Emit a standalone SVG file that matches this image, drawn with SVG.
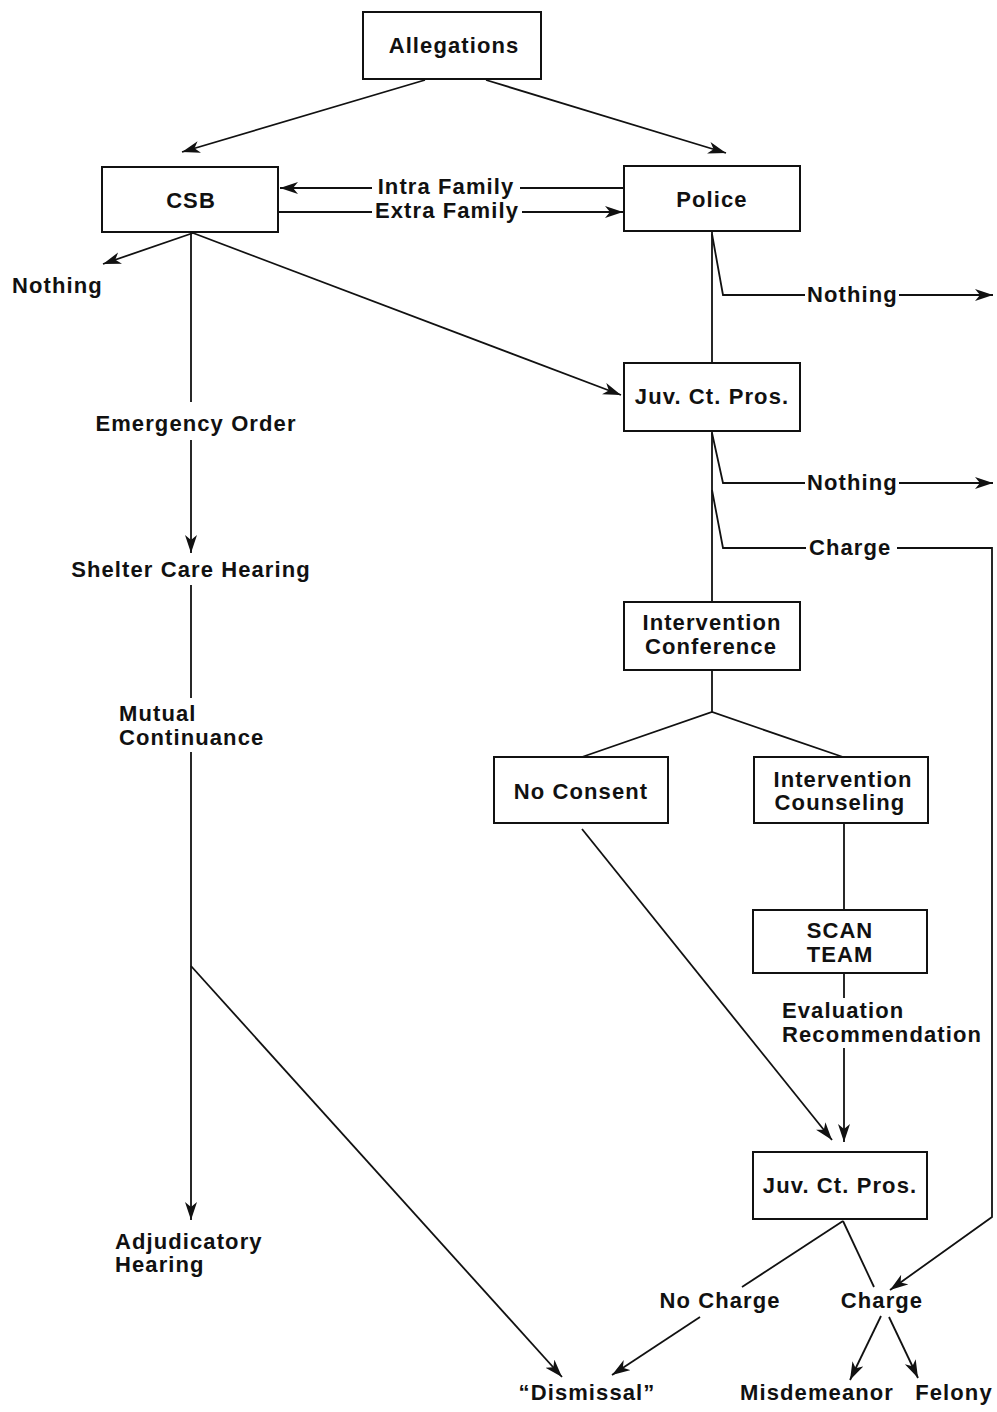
<svg xmlns="http://www.w3.org/2000/svg" width="997" height="1412" viewBox="0 0 997 1412">
<style>
.box{fill:none;stroke:#111;stroke-width:2}
.t{font-family:"Liberation Sans",Arial,sans-serif;font-weight:bold;font-size:22px;letter-spacing:1.1px;fill:#111}
.m{text-anchor:middle}
.c{fill:none;stroke:#111;stroke-width:1.8}
</style>
<defs>
<marker id="ah" markerUnits="userSpaceOnUse" markerWidth="20" markerHeight="14" refX="18" refY="6" orient="auto">
<path d="M0,0 L18,6 L0,12 L5,6 z" fill="#111"/>
</marker>
</defs>
<rect width="997" height="1412" fill="#fff"/>
<g id="connectors">
<line class="c" x1="425" y1="80" x2="182" y2="152" marker-end="url(#ah)"/>
<line class="c" x1="486" y1="80" x2="726" y2="153" marker-end="url(#ah)"/>
<line class="c" x1="624" y1="188" x2="520" y2="188"/>
<line class="c" x1="372" y1="188" x2="280" y2="188" marker-end="url(#ah)"/>
<line class="c" x1="278" y1="212" x2="372" y2="212"/>
<line class="c" x1="522" y1="212" x2="623" y2="212" marker-end="url(#ah)"/>
<line class="c" x1="193" y1="233" x2="103" y2="264" marker-end="url(#ah)"/>
<line class="c" x1="193" y1="233" x2="621" y2="395" marker-end="url(#ah)"/>
<line class="c" x1="191" y1="233" x2="191" y2="402"/>
<line class="c" x1="191" y1="440" x2="191" y2="553" marker-end="url(#ah)"/>
<line class="c" x1="191" y1="585" x2="191" y2="698"/>
<line class="c" x1="191" y1="752" x2="191" y2="1220" marker-end="url(#ah)"/>
<line class="c" x1="191" y1="966" x2="562" y2="1377" marker-end="url(#ah)"/>
<line class="c" x1="712" y1="232" x2="712" y2="363"/>
<polyline class="c" points="712,234 723,295 805,295"/>
<line class="c" x1="899" y1="295" x2="993" y2="295" marker-end="url(#ah)"/>
<line class="c" x1="712" y1="431" x2="712" y2="602"/>
<polyline class="c" points="712,433 723,483 805,483"/>
<line class="c" x1="899" y1="483" x2="993" y2="483" marker-end="url(#ah)"/>
<polyline class="c" points="712,490 723,548 806,548"/>
<polyline class="c" points="897,548 992,548 992,1217 890,1290" marker-end="url(#ah)"/>
<polyline class="c" points="582,757 712,712 843,757"/>
<line class="c" x1="712" y1="670" x2="712" y2="712"/>
<line class="c" x1="844" y1="823" x2="844" y2="910"/>
<line class="c" x1="844" y1="973" x2="844" y2="998"/>
<line class="c" x1="844" y1="1048" x2="844" y2="1142" marker-end="url(#ah)"/>
<line class="c" x1="582" y1="829" x2="832" y2="1140" marker-end="url(#ah)"/>
<line class="c" x1="843" y1="1221" x2="742" y2="1287"/>
<line class="c" x1="843" y1="1221" x2="874" y2="1287"/>
<line class="c" x1="700" y1="1317" x2="612" y2="1375" marker-end="url(#ah)"/>
<line class="c" x1="881" y1="1316" x2="850" y2="1380" marker-end="url(#ah)"/>
<line class="c" x1="889" y1="1317" x2="918" y2="1378" marker-end="url(#ah)"/>
</g>
<g id="allegations"><rect class="box" x="363" y="12" width="178" height="67"/><text class="t m" x="454" y="53">Allegations</text></g>
<g id="csb"><rect class="box" x="102" y="167" width="176" height="65"/><text class="t m" x="191" y="208">CSB</text></g>
<g id="police"><rect class="box" x="624" y="166" width="176" height="65"/><text class="t m" x="712" y="207">Police</text></g>
<g id="intra-family"><text class="t m" x="446" y="194">Intra Family</text></g>
<g id="extra-family"><text class="t m" x="447" y="218">Extra Family</text></g>
<g id="nothing-csb"><text class="t" x="12" y="293">Nothing</text></g>
<g id="nothing-police"><text class="t" x="807" y="302">Nothing</text></g>
<g id="juv1"><rect class="box" x="624" y="363" width="176" height="68"/><text class="t m" x="712" y="404">Juv. Ct. Pros.</text></g>
<g id="emergency-order"><text class="t m" x="196" y="431">Emergency Order</text></g>
<g id="nothing-juv"><text class="t" x="807" y="490">Nothing</text></g>
<g id="charge-juv"><text class="t" x="809" y="555">Charge</text></g>
<g id="shelter-care"><text class="t m" x="191" y="577">Shelter Care Hearing</text></g>
<g id="intervention-conference"><rect class="box" x="624" y="602" width="176" height="68"/><text class="t m" x="712" y="630">Intervention</text><text class="t m" x="711" y="654">Conference</text></g>
<g id="mutual-continuance"><text class="t" x="119" y="721">Mutual</text><text class="t" x="119" y="745">Continuance</text></g>
<g id="no-consent"><rect class="box" x="494" y="757" width="174" height="66"/><text class="t m" x="581" y="799">No Consent</text></g>
<g id="intervention-counseling"><rect class="box" x="754" y="757" width="174" height="66"/><text class="t m" x="843" y="787">Intervention</text><text class="t m" x="840" y="810">Counseling</text></g>
<g id="scan-team"><rect class="box" x="753" y="910" width="174" height="63"/><text class="t m" x="840" y="938">SCAN</text><text class="t m" x="840" y="962">TEAM</text></g>
<g id="evaluation"><text class="t" x="782" y="1018">Evaluation</text><text class="t" x="782" y="1042">Recommendation</text></g>
<g id="juv2"><rect class="box" x="753" y="1152" width="174" height="67"/><text class="t m" x="840" y="1193">Juv. Ct. Pros.</text></g>
<g id="adjudicatory"><text class="t" x="115" y="1249">Adjudicatory</text><text class="t" x="115" y="1272">Hearing</text></g>
<g id="no-charge"><text class="t m" x="720" y="1308">No Charge</text></g>
<g id="charge"><text class="t m" x="882" y="1308">Charge</text></g>
<g id="dismissal"><text class="t m" x="587" y="1400">“Dismissal”</text></g>
<g id="misdemeanor"><text class="t m" x="817" y="1400">Misdemeanor</text></g>
<g id="felony"><text class="t m" x="954" y="1400">Felony</text></g>
</svg>
